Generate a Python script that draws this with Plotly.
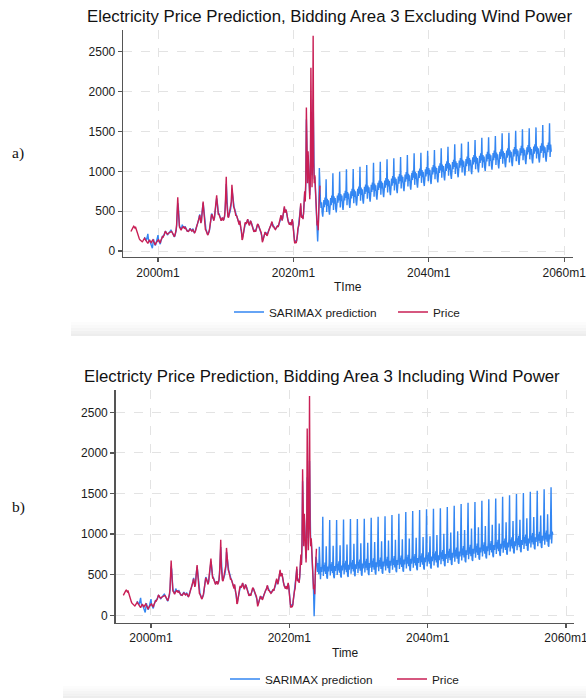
import plotly.graph_objects as go

# ---------------- data ----------------
x_tick_vals = [2000, 2020, 2040, 2060]
x_tick_text = ["2000m1", "2020m1", "2040m1", "2060m1"]
y_tick_vals = [0, 500, 1000, 1500, 2000, 2500]

price_start_year = 1996
price = [
    245, 265, 280, 295, 300, 310, 300, 290, 305, 280, 240, 215,   # 1996
    200, 185, 165, 150, 140, 135, 130, 120, 115, 125, 135, 150,   # 1997
    160, 150, 140, 120, 110, 100, 95, 110, 130, 140, 120, 110,    # 1998
    105, 120, 135, 140, 125, 100, 80, 75, 95, 110, 125, 130,      # 1999
    135, 140, 125, 110, 100, 130, 150, 170, 180, 175, 185, 200,   # 2000
    230, 245, 240, 225, 215, 210, 220, 225, 230, 235, 240, 250,   # 2001
    245, 235, 220, 210, 190, 180, 200, 220, 260, 330, 450, 675,   # 2002
    520, 380, 300, 290, 270, 260, 280, 290, 300, 310, 290, 285,   # 2003
    300, 280, 270, 260, 250, 250, 245, 255, 270, 280, 265, 255,   # 2004
    250, 260, 270, 250, 240, 230, 240, 280, 310, 320, 340, 360,   # 2005
    380, 420, 450, 400, 350, 380, 500, 590, 620, 520, 420, 330,   # 2006
    270, 260, 240, 220, 200, 210, 230, 260, 310, 380, 430, 460,   # 2007
    450, 420, 400, 380, 420, 480, 540, 620, 700, 600, 480, 460,   # 2008
    460, 440, 410, 400, 380, 400, 420, 400, 380, 410, 440, 520,   # 2009
    700, 930, 600, 450, 430, 420, 460, 500, 510, 560, 620, 830,   # 2010
    700, 580, 560, 540, 520, 480, 440, 450, 430, 400, 380, 330,   # 2011
    330, 380, 300, 280, 250, 140, 150, 200, 260, 300, 340, 360,   # 2012
    340, 350, 380, 400, 360, 330, 320, 350, 380, 360, 340, 320,   # 2013
    290, 260, 240, 250, 260, 240, 280, 300, 330, 340, 320, 300,   # 2014
    270, 250, 240, 230, 180, 110, 130, 160, 200, 230, 240, 210,   # 2015
    220, 190, 200, 230, 260, 290, 300, 310, 320, 350, 370, 330,   # 2016
    300, 310, 290, 280, 270, 280, 300, 310, 320, 300, 330, 340,   # 2017
    350, 400, 450, 420, 380, 420, 490, 520, 560, 480, 500, 520,   # 2018
    480, 420, 380, 360, 350, 330, 340, 360, 320, 370, 400, 350,   # 2019
    220, 150, 110, 95, 120, 100, 130, 200, 280, 300, 330, 420,    # 2020
    520, 600, 430, 420, 440, 400, 480, 600, 750, 620, 900, 1800,  # 2021
    1300, 850, 1250, 1000, 800, 650, 900, 2300, 1500, 800, 1200, 2700,  # 2022
    1100, 850, 950, 750, 550, 400, 320, 380, 260, 500, 700, 820,  # 2023
]

pred_start_year = 1998
pred_hist_common = [
    175, 155, 150, 130, 150, 190, 215, 150, 120, 135, 110, 100,   # 1998
    90, 60, 35, 90, 150, 120, 90, 70, 80, 105, 120, 170,          # 1999
    200, 130, 115, 95, 85, 120, 145, 160, 190, 180, 190, 215,     # 2000
    225, 250, 235, 220, 210, 200, 215, 225, 235, 230, 245, 260,   # 2001
    250, 230, 215, 200, 185, 175, 190, 215, 250, 310, 420, 600,   # 2002
    560, 400, 320, 300, 280, 270, 290, 330, 310, 305, 300, 290,   # 2003
    310, 290, 275, 255, 245, 255, 250, 260, 280, 285, 270, 260,   # 2004
    255, 270, 280, 255, 235, 240, 250, 270, 300, 330, 350, 370,   # 2005
    390, 430, 460, 410, 360, 370, 480, 560, 600, 540, 440, 350,   # 2006
    290, 270, 250, 225, 210, 215, 225, 250, 300, 360, 420, 470,   # 2007
    460, 430, 410, 390, 410, 470, 530, 600, 660, 620, 500, 470,   # 2008
    470, 450, 420, 405, 390, 395, 410, 410, 390, 400, 430, 500,   # 2009
    650, 840, 640, 480, 440, 430, 450, 490, 500, 540, 600, 780,   # 2010
    720, 600, 570, 545, 525, 490, 450, 445, 430, 410, 390, 350,   # 2011
    340, 370, 310, 290, 260, 180, 170, 210, 260, 300, 330, 350,   # 2012
    345, 355, 375, 395, 370, 340, 330, 345, 370, 365, 345, 325,   # 2013
    300, 270, 250, 255, 260, 250, 270, 295, 320, 335, 325, 305,   # 2014
    280, 260, 245, 235, 190, 140, 140, 165, 200, 225, 235, 220,   # 2015
    225, 200, 210, 230, 255, 280, 295, 305, 320, 345, 360, 340,   # 2016
    310, 310, 295, 285, 275, 280, 295, 305, 315, 305, 325, 335,   # 2017
    350, 390, 440, 425, 390, 410, 470, 510, 545, 500, 500, 515,   # 2018
    490, 440, 395, 370, 355, 340, 345, 355, 330, 360, 390, 360,   # 2019
    250, 180, 130, 110, 125, 115, 135, 190, 260, 290, 320, 400,   # 2020
    490, 570, 460, 430, 440, 410, 470, 580, 720, 640, 860, 1650,  # 2021
    1350, 950, 1200, 1050, 850, 700, 880, 1700, 1500, 950, 1150, 1900,  # 2022
]
pred_2023_a = [1290, 900, 930, 800, 600, 450, 350, 120, 300, 520, 1040, 700]
pred_2023_b = [1250, 880, 930, 800, 600, 450, 300, -10, 350, 600, 720, 690]

forecast_a = [
    630, 540, 610, 480, 430, 520, 640, 550, 670, 580, 900, 490,
    655, 565, 635, 505, 455, 545, 665, 575, 695, 605, 975, 515,
    685, 595, 665, 535, 485, 575, 695, 605, 725, 635, 995, 545,
    715, 625, 695, 565, 515, 605, 725, 635, 755, 665, 1025, 575,
    740, 650, 720, 590, 540, 630, 750, 660, 780, 690, 1030, 600,
    770, 680, 750, 620, 570, 660, 780, 690, 810, 720, 1058, 630,
    795, 705, 775, 645, 595, 685, 805, 715, 835, 745, 1080, 655,
    820, 730, 800, 670, 620, 710, 830, 740, 860, 770, 1108, 680,
    845, 755, 825, 695, 645, 735, 855, 765, 885, 795, 1120, 705,
    875, 785, 855, 725, 675, 765, 885, 795, 915, 825, 1150, 735,
    900, 810, 880, 750, 700, 790, 910, 820, 940, 850, 1163, 760,
    925, 835, 905, 775, 725, 815, 935, 845, 965, 875, 1180, 785,
    950, 860, 930, 800, 750, 840, 960, 870, 990, 900, 1204, 810,
    970, 880, 950, 820, 770, 860, 980, 890, 1010, 920, 1225, 830,
    995, 905, 975, 845, 795, 885, 1005, 915, 1035, 945, 1234, 855,
    1015, 925, 995, 865, 815, 905, 1025, 935, 1055, 965, 1259, 875,
    1040, 950, 1020, 890, 840, 930, 1050, 960, 1080, 990, 1267, 900,
    1060, 970, 1040, 910, 860, 950, 1070, 980, 1100, 1010, 1288, 920,
    1085, 995, 1065, 935, 885, 975, 1095, 1005, 1125, 1035, 1309, 945,
    1105, 1015, 1085, 955, 905, 995, 1115, 1025, 1145, 1055, 1338, 965,
    1125, 1035, 1105, 975, 925, 1015, 1135, 1045, 1165, 1075, 1350, 985,
    1145, 1055, 1125, 995, 945, 1035, 1155, 1065, 1185, 1095, 1371, 1005,
    1165, 1075, 1145, 1015, 965, 1055, 1175, 1085, 1205, 1115, 1393, 1025,
    1185, 1095, 1165, 1035, 985, 1075, 1195, 1105, 1225, 1135, 1422, 1045,
    1205, 1115, 1185, 1055, 1005, 1095, 1215, 1125, 1245, 1155, 1426, 1065,
    1220, 1130, 1200, 1070, 1020, 1110, 1230, 1140, 1260, 1170, 1443, 1080,
    1235, 1145, 1215, 1085, 1035, 1125, 1245, 1155, 1275, 1185, 1476, 1095,
    1250, 1160, 1230, 1100, 1050, 1140, 1260, 1170, 1290, 1200, 1484, 1110,
    1265, 1175, 1245, 1115, 1065, 1155, 1275, 1185, 1305, 1215, 1509, 1125,
    1280, 1190, 1260, 1130, 1080, 1170, 1290, 1200, 1320, 1230, 1526, 1140,
    1290, 1200, 1270, 1140, 1090, 1180, 1300, 1210, 1330, 1240, 1539, 1150,
    1300, 1210, 1280, 1150, 1100, 1190, 1310, 1220, 1340, 1250, 1551, 1160,
    1310, 1220, 1290, 1160, 1110, 1200, 1320, 1230, 1350, 1260, 1581, 1170,
    1320, 1230, 1300, 1170, 1120, 1210, 1330, 1240, 1360, 1270, 1602, 1180,
    1335, 1245,
]

forecast_b = [
    615, 535, 645, 505, 845, 465, 445, 595, 535, 645, 1214, 485,
    620, 540, 650, 510, 850, 470, 450, 600, 540, 650, 1175, 490,
    627, 547, 657, 517, 857, 477, 457, 607, 547, 657, 1175, 497,
    634, 554, 664, 524, 864, 484, 464, 614, 554, 664, 1180, 504,
    642, 562, 672, 532, 872, 492, 472, 622, 562, 672, 1185, 512,
    650, 570, 680, 540, 880, 500, 480, 630, 570, 680, 1185, 520,
    658, 578, 688, 548, 888, 508, 488, 638, 578, 688, 1190, 528,
    665, 585, 695, 555, 895, 515, 495, 645, 585, 695, 1200, 535,
    673, 593, 703, 563, 903, 523, 503, 653, 593, 703, 1214, 543,
    682, 602, 712, 572, 912, 532, 512, 662, 602, 712, 1220, 552,
    691, 611, 721, 581, 921, 541, 521, 671, 611, 721, 1235, 561,
    700, 620, 730, 590, 930, 550, 530, 680, 620, 730, 1250, 570,
    707, 627, 737, 597, 937, 557, 537, 687, 627, 737, 1272, 577,
    716, 636, 746, 606, 946, 566, 546, 696, 636, 746, 1285, 586,
    725, 645, 755, 615, 955, 575, 555, 705, 645, 755, 1297, 595,
    733, 653, 763, 623, 963, 583, 563, 713, 653, 763, 1305, 603,
    745, 665, 775, 635, 975, 595, 575, 725, 665, 775, 1312, 615,
    760, 680, 790, 650, 990, 610, 590, 740, 680, 790, 1318, 630,
    775, 695, 805, 665, 1005, 625, 605, 755, 695, 805, 1335, 645,
    790, 710, 820, 680, 1020, 640, 620, 770, 710, 820, 1350, 660,
    806, 726, 836, 696, 1036, 656, 636, 786, 726, 836, 1370, 676,
    822, 742, 852, 712, 1052, 672, 652, 802, 742, 852, 1385, 692,
    838, 758, 868, 728, 1068, 688, 668, 818, 758, 868, 1395, 708,
    854, 774, 884, 744, 1084, 704, 684, 834, 774, 884, 1410, 724,
    870, 790, 900, 760, 1100, 720, 700, 850, 790, 900, 1428, 740,
    885, 805, 915, 775, 1115, 735, 715, 865, 805, 915, 1440, 755,
    900, 820, 930, 790, 1130, 750, 730, 880, 820, 930, 1460, 770,
    915, 835, 945, 805, 1145, 765, 745, 895, 835, 945, 1478, 785,
    932, 852, 962, 822, 1162, 782, 762, 912, 852, 962, 1494, 802,
    948, 868, 978, 838, 1178, 798, 778, 928, 868, 978, 1505, 818,
    965, 885, 995, 855, 1195, 815, 795, 945, 885, 995, 1523, 835,
    982, 902, 1012, 872, 1212, 832, 812, 962, 902, 1012, 1535, 852,
    998, 918, 1028, 888, 1228, 848, 828, 978, 918, 1028, 1552, 868,
    1015, 935, 1045, 905, 1245, 865, 845, 995, 935, 1045, 1576, 885,
    1030, 990,
]

titles = [
    "Electricity Price Prediction, Bidding Area 3 Excluding Wind Power",
    "Electricty Price Prediction, Bidding Area 3 Including Wind Power",
]
x_titles = ["TIme", "Time"]
panel_labels = ["a)", "b)"]
series_names = ["SARIMAX prediction", "Price"]

# ---------------- build ----------------
BLUE = "#3386f2"
RED = "#c91f55"
W, H = 586, 698


def month_axis(start_year, n):
    return [start_year + i / 12 for i in range(n)]


pred_a = pred_hist_common + pred_2023_a + forecast_a
pred_b = pred_hist_common + pred_2023_b + forecast_b

fig = go.Figure()
for pred, xa, ya, lg in [(pred_a, "x", "y", "legend"), (pred_b, "x2", "y2", "legend2")]:
    fig.add_trace(go.Scatter(
        x=month_axis(pred_start_year, len(pred)), y=pred, mode="lines",
        name=series_names[0], line=dict(color=BLUE, width=1.4),
        xaxis=xa, yaxis=ya, legend=lg))
    fig.add_trace(go.Scatter(
        x=month_axis(price_start_year, len(price)), y=price, mode="lines",
        name=series_names[1], line=dict(color=RED, width=1.4),
        xaxis=xa, yaxis=ya, legend=lg))

FONT = "Liberation Sans"
axis_common = dict(
    showgrid=True, gridcolor="#e3e3e3", griddash="dash", gridwidth=1,
    showline=True, linecolor="#555555", linewidth=1.3,
    ticks="outside", ticklen=4, tickcolor="#555555", tickwidth=1.3,
    zeroline=False, tickfont=dict(family=FONT, size=12, color="#1a1a1a"),
    ticklabeloverflow="allow", automargin=False, fixedrange=True,
)


def px_x(p):
    return p / W


def px_y(p):
    return 1 - p / H


legend_common = dict(orientation="h", xanchor="left", yanchor="middle",
                     font=dict(family=FONT, size=11.8, color="#1a1a1a"),
                     bgcolor="rgba(0,0,0,0)", entrywidthmode="pixels", itemwidth=30)

fig.update_layout(
    width=W, height=H,
    margin=dict(l=0, r=0, t=0, b=0, autoexpand=False),
    paper_bgcolor="white", plot_bgcolor="white",
    font=dict(family=FONT, color="#1a1a1a"),
    xaxis=dict(domain=[px_x(123), px_x(573)], range=[1994.83, 2061.3],
               tickvals=x_tick_vals, ticktext=x_tick_text, anchor="y", **axis_common),
    yaxis=dict(domain=[px_y(257), px_y(30)], range=[-75.3, 2773],
               tickvals=y_tick_vals, anchor="x", **axis_common),
    xaxis2=dict(domain=[px_x(115.5), px_x(574)], range=[1994.87, 2061.15],
                tickvals=x_tick_vals, ticktext=x_tick_text, anchor="y2", **axis_common),
    yaxis2=dict(domain=[px_y(622.7), px_y(390)], range=[-91, 2775],
                tickvals=y_tick_vals, anchor="x2", **axis_common),
    legend=dict(x=px_x(229), y=px_y(312), entrywidth=119, **legend_common),
    legend2=dict(x=px_x(225), y=px_y(679), entrywidth=122, **legend_common),
)

annotations = []
for title, cx, cy in [(titles[0], 329, 17), (titles[1], 322, 376)]:
    annotations.append(dict(text=title, x=px_x(cx), y=px_y(cy), xref="paper", yref="paper",
                            xanchor="center", yanchor="middle", showarrow=False,
                            font=dict(family=FONT, size=16.8, color="#111")))
for t, cx, cy in [(x_titles[0], 348, 287), (x_titles[1], 345, 653)]:
    annotations.append(dict(text=t, x=px_x(cx), y=px_y(cy), xref="paper", yref="paper",
                            xanchor="center", yanchor="middle", showarrow=False,
                            font=dict(family=FONT, size=12, color="#1a1a1a")))
for t, cx, cy in [(panel_labels[0], 18, 153), (panel_labels[1], 18, 507)]:
    annotations.append(dict(text=t, x=px_x(cx), y=px_y(cy), xref="paper", yref="paper",
                            xanchor="center", yanchor="middle", showarrow=False,
                            font=dict(family="Liberation Serif", size=15.5, color="#111")))
fig.update_layout(annotations=annotations)

# faint screenshot shadow strips below each panel
shapes = []
for x0, ytop, ybot in [(71, 322, 336), (63, 686, 698)]:
    greys = ["#fcfcfc", "#f9f9f9", "#f5f5f5", "#f1f1f1", "#ededed"]
    step = (ybot - ytop) / len(greys)
    for i, g in enumerate(greys):
        shapes.append(dict(type="rect", xref="paper", yref="paper",
                           x0=px_x(x0), x1=1, y0=px_y(ytop + (i + 1) * step), y1=px_y(ytop + i * step),
                           fillcolor=g, line=dict(width=0), layer="below"))
fig.update_layout(shapes=shapes)

fig.write_html("out.html", config={"displayModeBar": False, "staticPlot": True})

# remove the browser's default 8px body margin so the figure sits at the window origin
with open("out.html", "r", encoding="utf-8") as f:
    html = f.read()
html = html.replace("<head>", "<head><style>html,body{margin:0;padding:0;overflow:hidden;}</style>", 1)
with open("out.html", "w", encoding="utf-8") as f:
    f.write(html)
